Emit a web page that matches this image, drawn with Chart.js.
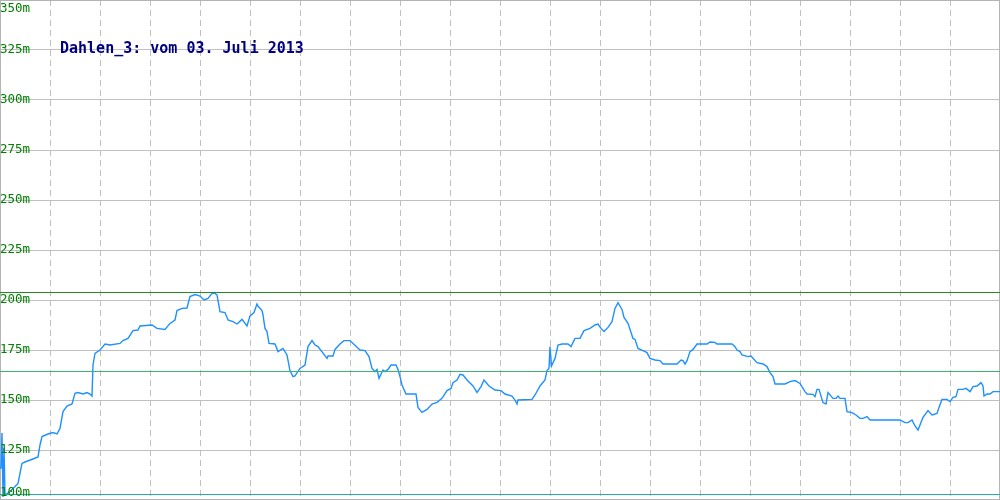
<!DOCTYPE html>
<html>
<head>
<meta charset="utf-8">
<script src="https://cdn.jsdelivr.net/npm/chart.js@4/dist/chart.umd.min.js"></script>
<style>
  html, body { margin: 0; padding: 0; background: #fff; }
  canvas { display: block; }
</style>
</head>
<body>
<canvas id="chart" width="1000" height="500"></canvas>
<script>
const titel = "Dahlen_3: vom 03. Juli 2013";

// Position im Tagesverlauf (0..1000) und Pegel in m
const positionen = [
  0, 1, 2, 3, 4, 5, 10, 15, 18, 20, 22, 25, 33, 38, 40, 42, 48, 53, 57, 60,
  63, 67, 72, 75, 78, 83, 87, 90, 92, 93, 95, 100, 105, 110, 120, 123, 128, 133, 138, 140,
  152, 157, 165, 170, 175, 177, 182, 187, 190, 195, 200, 204, 208, 212, 215, 217, 220, 225, 228, 233,
  237, 242, 247, 250, 254, 257, 258, 262, 263, 265, 267, 269, 275, 278, 283, 287, 290, 293, 295, 300,
  305, 308, 312, 315, 318, 327, 328, 333, 335, 340, 344, 350, 360, 365, 369, 372, 375, 377, 379, 383,
  385, 388, 391, 396, 398, 400, 402, 406, 416, 418, 422, 427, 432, 437, 442, 447, 451, 453, 457, 460,
  463, 467, 473, 477, 481, 484, 489, 495, 501, 505, 512, 515, 517, 518, 532, 535, 540, 545, 547, 549,
  550, 551.5, 555, 558, 562, 568, 571, 575, 580, 584, 590, 595, 598, 601, 604, 608, 612, 615, 618, 622,
  624, 628, 633, 635, 638, 643, 647, 650, 655, 660, 663, 677, 681, 683, 685, 687, 690, 693, 697, 707,
  710, 715, 717, 732, 735, 737, 740, 742, 748, 751, 757, 763, 767, 770, 773, 775, 785, 790, 795, 800,
  805, 807, 813, 815, 817, 819, 823, 826, 828, 833, 836, 838, 840, 845, 847, 852, 856, 860, 863, 867,
  870, 900, 905, 908, 912, 915, 918, 923, 928, 932, 937, 939, 942, 947, 950, 953, 956, 958, 963, 966,
  970, 973, 977, 981, 983, 984, 987, 990, 993, 1000
];
const pegel = [
  116, 116, 133.5, 101.5, 126, 102.5, 104.2, 106.7, 108.3, 113.3, 118.3, 119, 120.5, 121.5, 127.5, 131.7, 133, 133.7, 133, 135.8,
  144.2, 147, 148, 153.3, 153.7, 153, 153.7, 153, 152, 167.5, 173.3, 175, 178, 177.5, 178.3, 179.7, 180.8, 184.7, 185, 187,
  187.5, 185.8, 185.3, 188.3, 190, 194.7, 195.8, 196, 201.7, 202.7, 202, 200, 200.8, 203.3, 203.3, 202.5, 194.2, 193.7, 190, 189.2,
  188, 190.3, 187, 192, 193.7, 198, 197, 194.7, 192.5, 185.8, 184.2, 178.3, 178, 174.2, 175.8, 172.5, 164.7, 161.7, 162, 165.8,
  167.5, 176.7, 179.7, 177.5, 176.7, 170.8, 172, 172, 175.3, 178, 179.7, 179.7, 175, 174.7, 171.7, 165.8, 164.2, 165.3, 160.8, 165,
  164.2, 165.3, 167.5, 167.5, 165.3, 161.7, 157.5, 153, 153, 146.3, 143.8, 145.3, 148, 148.8, 150.8, 154.7, 155.8, 158.7, 160, 162.8,
  162.5, 160, 157, 153.8, 156.7, 160, 157, 155, 154.7, 153, 152, 150, 148, 150, 150.3, 152.5, 157, 160, 164.7, 165.8,
  176.7, 167, 170.8, 177.5, 178, 178, 176.7, 180.8, 180.8, 184.7, 185.8, 187.5, 188, 185.8, 184.2, 186.3, 189.2, 195.8, 198.7, 195.3,
  191.3, 188.3, 180.8, 180.3, 175.8, 174.7, 173.7, 170.8, 170, 169.7, 168, 168, 170, 169.7, 168, 169.7, 174.2, 175.3, 178, 178,
  179, 178.8, 178, 178, 176.7, 175, 174.2, 172.5, 171.7, 172, 168.7, 168, 166.7, 163.7, 161.7, 158, 158, 159.2, 159.7, 158.3,
  154.2, 153, 152.8, 151.7, 155.3, 155.3, 148.7, 148, 153.7, 150.8, 150.8, 152, 150.8, 150.8, 144.2, 143.7, 142.5, 140.8, 140.8, 141.7,
  140, 140, 138.7, 138.7, 140, 137, 135, 141.3, 144.7, 142.5, 143.3, 146.3, 150.3, 150.3, 149.2, 151.3, 151.7, 155.3, 155.3, 155.8,
  154.2, 156.7, 157, 158.7, 157, 152, 153, 153, 154.2, 154.2
];

// Grenzwerte (m)
const grenzwerte = [203.75, 164.25, 102.75];
const grenzFarben = ['#228b22', '#3cb371', '#20b2aa'];

const yTicks = [100, 125, 150, 175, 200, 225, 250, 275, 300, 325, 350];
const yTickLabels = ['100m', '125m', '150m', '175m', '200m', '225m', '250m', '275m', '300m', '325m', '350m'];

const punkte = positionen.map((x, i) => ({ x: x, y: pegel[i] }));

const datensaetze = grenzwerte.map((g, i) => ({
  data: [{ x: 0, y: g }, { x: 1000, y: g }],
  borderColor: grenzFarben[i],
  borderWidth: 1,
  pointRadius: 0
}));
datensaetze.push({
  data: punkte,
  borderColor: '#1e90ff',
  borderWidth: 1.4,
  pointRadius: 0,
  tension: 0
});

// Rahmen, Achsenbeschriftung und Titel im Diagramm
const beschriftung = {
  id: 'beschriftung',
  beforeDatasetsDraw(chart) {
    const ctx = chart.ctx;
    const a = chart.chartArea;
    ctx.save();
    ctx.strokeStyle = '#b4b4b4';
    ctx.lineWidth = 1;
    ctx.strokeRect(a.left + 0.5, a.top + 0.5, a.right - a.left - 1, a.bottom - a.top - 1);
    ctx.restore();
  },
  afterDatasetsDraw(chart) {
    const ctx = chart.ctx;
    const y = chart.scales.y;
    ctx.save();
    ctx.font = '12.5px "DejaVu Sans Mono", monospace';
    ctx.fillStyle = '#008000';
    ctx.textAlign = 'left';
    ctx.textBaseline = 'middle';
    yTicks.forEach((v, i) => {
      let py = y.getPixelForValue(v);
      py = Math.max(8.5, Math.min(493, py));
      ctx.fillText(yTickLabels[i], 0, py);
    });
    ctx.font = 'bold 15px "DejaVu Sans Mono", monospace';
    ctx.fillStyle = '#000080';
    ctx.fillText(titel, 60, 49.5);
    ctx.restore();
  }
};

new Chart(document.getElementById('chart'), {
  type: 'line',
  data: { datasets: datensaetze },
  options: {
    responsive: false,
    animation: false,
    layout: { padding: 0 },
    plugins: { legend: { display: false }, tooltip: { enabled: false }, title: { display: false } },
    scales: {
      x: {
        type: 'linear', min: 0, max: 1000,
        ticks: { display: false, stepSize: 50 },
        grid: { color: '#c0c0c0', drawTicks: false },
        border: { display: false, dash: [6, 4] }
      },
      y: {
        min: 100, max: 350,
        ticks: { display: false, stepSize: 25 },
        grid: { color: '#c0c0c0', drawTicks: false },
        border: { display: false }
      }
    }
  },
  plugins: [beschriftung]
});
</script>
</body>
</html>
